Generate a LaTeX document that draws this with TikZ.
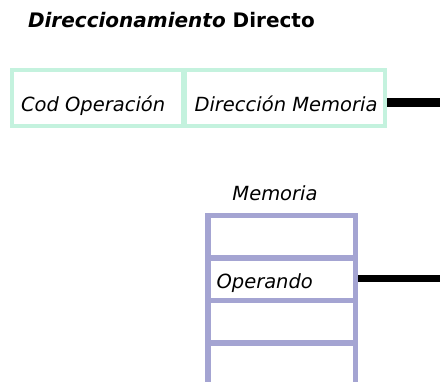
\documentclass[tikz,border=0pt]{standalone}
\usepackage{fontspec}
\setmainfont{DejaVu Sans}
\usetikzlibrary{positioning}
\definecolor{verdecel}{HTML}{C4F2DE}
\definecolor{lila}{HTML}{A4A4D2}
\begin{document}
\begin{tikzpicture}[x=1pt, y=-1pt, font=\fontsize{19.5}{23}\selectfont\itshape, line cap=butt,
  celda/.style={draw=verdecel, line width=4pt, outer sep=0pt, inner sep=0pt, minimum height=55.2pt},
  mem/.style={draw=lila, line width=5.5pt, outer sep=0pt, inner sep=0pt, minimum width=147.3pt, minimum height=42.5pt},
  barra/.style={line width=#1, line cap=butt}, barra/.default=9pt]
\def\xmax{440} \def\ymax{381}
\path[use as bounding box, clip] (0,0) rectangle (\xmax,\ymax);
\coordinate (borde) at (\xmax,0);
\node[anchor=base west, font=\fontsize{20}{24}\selectfont\bfseries] (titulo) at (24.5,27.3) {\textit{Direccionamiento} Directo};
% instruccion
\node[celda, minimum width=171pt] (cod) at (97.5,97.9) {};
\node[celda, minimum width=200.3pt, right=2pt of cod] (dir) {};
\node[anchor=base west] (tcod) at ([xshift=5.5pt,yshift=13.8pt]cod.south west) {Cod Operación};
\node[anchor=base west] (tdir) at ([xshift=6pt,yshift=13.8pt]dir.south west) {Dirección Memoria};
\coordinate (s1) at ([xshift=2pt,yshift=-4.9pt]dir.east);
\draw[barra] (s1) -- (s1 -| borde);
% memoria
\node[mem] (m1) at (281.65,236.75) {};
\node[mem, below=0pt of m1] (m2) {};
\node[mem, below=0pt of m2] (m3) {};
\node[mem, below=0pt of m3] (m4) {};
\node[anchor=base] (tmem) at ([xshift=-6.65pt,yshift=15.5pt]m1.north) {Memoria};
\node[anchor=base west] (op) at ([xshift=5pt,yshift=12.5pt]m2.south west) {Operando};
\coordinate (s2) at ([xshift=2.75pt,yshift=1.2pt]m2.east);
\draw[barra=7pt] (s2) -- (s2 -| borde);
\end{tikzpicture}
\end{document}
